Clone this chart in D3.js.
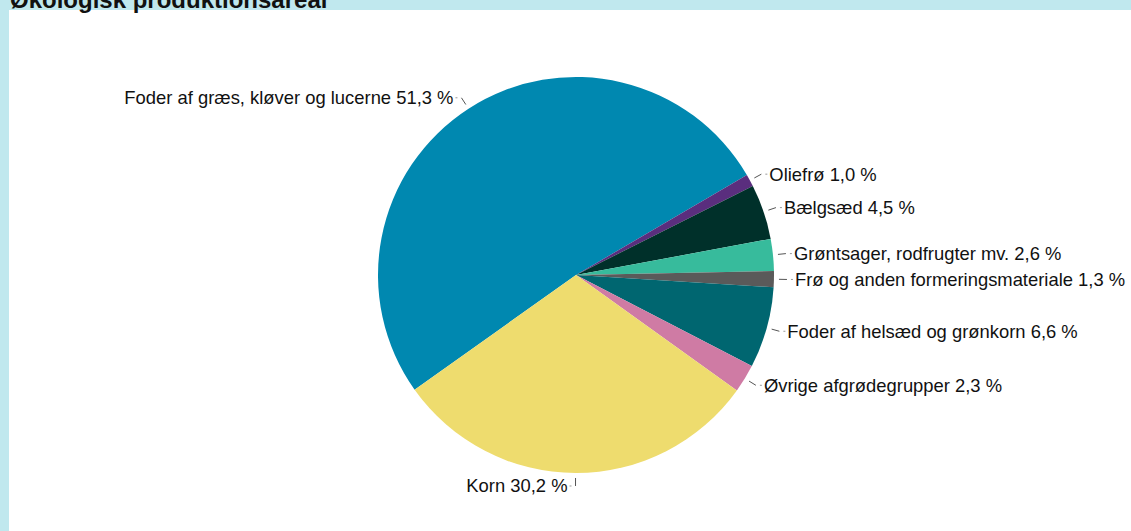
<!DOCTYPE html>
<html>
<head>
<meta charset="utf-8">
<script src="https://cdn.jsdelivr.net/npm/d3@7"></script>
<style>
    body { margin: 0; background: #c0e8ee; overflow: hidden; }
    #chart { position: absolute; left: 0; top: 0; }
    .label { font-family: "Liberation Sans", Arial, sans-serif; font-size: 18.4px; fill: #111; }
    .title { font-family: "Liberation Sans", Arial, sans-serif; font-size: 24px; font-weight: bold; fill: #111; }
</style>
</head>
<body>
<div id="chart"></div>
<script>
// data, clockwise from the lower left edge of the big slice
let categories = [
    "Foder af græs, kløver og lucerne",
    "Oliefrø",
    "Bælgsæd",
    "Grøntsager, rodfrugter mv.",
    "Frø og anden formeringsmateriale",
    "Foder af helsæd og grønkorn",
    "Øvrige afgrødegrupper",
    "Korn"
];
let shares = [51.3, 1.0, 4.5, 2.6, 1.3, 6.6, 2.3, 30.2];
let shareLabels = ["51,3 %", "1,0 %", "4,5 %", "2,6 %", "1,3 %", "6,6 %", "2,3 %", "30,2 %"];
let colors = ["#0088b0", "#5a2e7e", "#00302a", "#37bb9c", "#5a5a5a", "#006670", "#cf7ba4", "#eedc6e"];

let width = 1131, height = 531;
let cx = 576, cy = 275, radius = 198;

let svg = d3.select("#chart").append("svg")
    .attr("width", width)
    .attr("height", height);

// white panel
svg.append("rect")
    .attr("x", 9)
    .attr("y", 10)
    .attr("width", width - 9)
    .attr("height", height - 10)
    .attr("fill", "#ffffff");

// title, partly cut at the top edge like in the original
svg.append("text")
    .attr("class", "title")
    .attr("x", 10)
    .attr("y", 8)
    .text("Økologisk produktionsareal");

let data = categories.map((c, i) => ({ name: c, value: shares[i], label: shareLabels[i], color: colors[i] }));

let start = -125.4 * Math.PI / 180;
let pie = d3.pie()
    .sort(null)
    .value(d => d.value)
    .startAngle(start)
    .endAngle(start + 2 * Math.PI);

let arc = d3.arc().innerRadius(0).outerRadius(radius);

let g = svg.append("g")
    .attr("transform", `translate(${cx}, ${cy})`);

let arcs = pie(data);

g.selectAll(".slice")
    .data(arcs)
    .enter()
    .append("path")
    .attr("class", "slice")
    .attr("d", arc)
    .attr("fill", d => d.data.color);

// point at a given radius along the middle angle
function pt(d, r) {
    let a = (d.startAngle + d.endAngle) / 2;
    return [r * Math.sin(a), -r * Math.cos(a)];
}
function side(d) {
    let a = (d.startAngle + d.endAngle) / 2;
    return Math.sin(a) >= 0 ? 1 : -1;
}

// leader ticks
g.selectAll(".leader")
    .data(arcs)
    .enter()
    .append("line")
    .attr("class", "leader")
    .attr("x1", d => pt(d, radius + 5)[0])
    .attr("y1", d => pt(d, radius + 5)[1])
    .attr("x2", d => pt(d, radius + 13)[0])
    .attr("y2", d => pt(d, radius + 13)[1])
    .attr("stroke", "#555")
    .attr("stroke-width", 1);

// small dot before the text
g.selectAll(".dot")
    .data(arcs)
    .enter()
    .append("line")
    .attr("class", "dot")
    .attr("x1", d => pt(d, radius + 13)[0] + side(d) * 4)
    .attr("x2", d => pt(d, radius + 13)[0] + side(d) * 6)
    .attr("y1", d => pt(d, radius + 13)[1])
    .attr("y2", d => pt(d, radius + 13)[1])
    .attr("stroke", "#999")
    .attr("stroke-width", 1);

g.selectAll(".label")
    .data(arcs)
    .enter()
    .append("text")
    .attr("class", "label")
    .attr("x", d => pt(d, radius + 13)[0] + side(d) * 8)
    .attr("y", d => pt(d, radius + 13)[1])
    .attr("dy", "0.35em")
    .attr("text-anchor", d => side(d) > 0 ? "start" : "end")
    .text(d => d.data.name + " " + d.data.label);
</script>
</body>
</html>
